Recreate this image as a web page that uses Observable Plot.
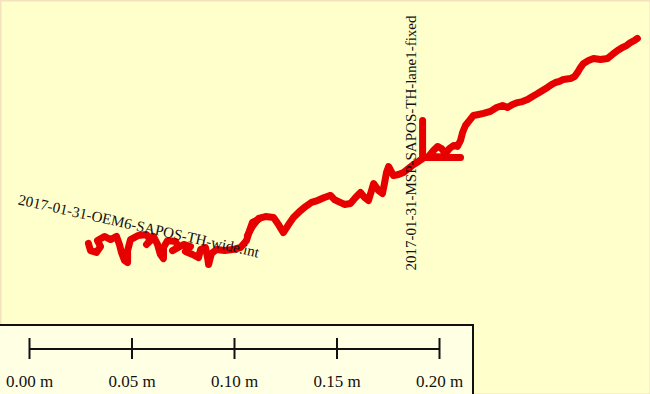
<!DOCTYPE html>
<html><head><meta charset="utf-8">
<script src="https://cdn.jsdelivr.net/npm/d3@7"></script>
<script src="https://cdn.jsdelivr.net/npm/@observablehq/plot@0.6"></script>
<style>
html,body{margin:0;padding:0;background:#ffffcc;}
#wrap{position:relative;width:650px;height:394px;overflow:hidden;}
#scale{position:absolute;left:-2px;top:324px;width:476px;height:72px;box-sizing:border-box;border:2px solid #111;background:#ffffe4;}
#scale svg,#map svg{display:block;}
</style></head><body>
<div id="wrap"><div id="map"></div><div id="scale"></div></div>
<script>
// Track 1: 2017-01-31-OEM6-SAPOS-TH-wide.int  (local east / north, millimetres)
const oem6East = [42.9,43.9,46.8,48.8,47.3,50.7,53.7,56.6,58.0,59.0,60.5,62.0,62.0,63.4,67.3,71.2,73.2,71.2,74.6,76.6,78.0,79.5,79.5,81.5,85.4,86.8,83.9,89.3,92.7,90.2,93.7,96.6,97.6,100.0,101.0,101.5,102.9,105.4,109.3,113.2,117.1,120.0,121.5,122.9,125.9];
const oem6North = [73.7,70.2,69.3,72.2,75.1,77.1,75.6,77.1,73.2,69.3,65.4,64.4,70.2,75.6,77.6,78.0,75.1,73.2,77.1,73.2,68.3,66.3,71.7,75.1,74.6,71.7,70.2,73.2,72.2,69.8,68.3,66.8,70.7,71.7,66.8,63.4,68.8,70.7,70.2,70.7,71.7,75.1,80.0,83.9,85.4];

// Track 2: 2017-01-31-MSP-SAPOS-TH-lane1-fixed (local east / north, millimetres)
const mspEast = [120.5,122.9,125.9,129.3,133.2,135.6,138.0,140.5,142.9,145.9,148.8,151.7,154.6,158.0,161.0,162.9,164.9,167.8,170.7,173.2,175.6,177.6,179.5,181.0,182.0,184.4,186.3,187.3,188.3,189.3,191.7,194.1,196.6,199.0,201.5,203.9,205.9,205.9,205.9,224.4,208.8,211.2,213.2,215.1,217.1,219.0,221.0,222.9,224.4,225.4,226.8,228.8,230.7,233.2,235.6,239.0,242.0,244.9,247.3,249.8,252.2,254.6,257.1,259.5,262.0,264.4,266.8,268.8,270.7,272.7,274.6,278.0,280.0,281.5,282.9,284.4,286.8,289.3,292.7,296.1,299.0,301.0,303.4,305.4,307.3,309.3,310.7];
const mspNorth = [77.6,82.0,85.9,86.8,86.3,82.9,79.0,82.9,86.3,89.3,91.7,93.7,94.6,96.1,97.1,95.1,94.1,92.7,93.2,96.1,98.5,96.1,94.6,99.5,102.9,99.5,98.0,102.9,108.3,111.2,106.8,107.3,108.3,110.2,112.2,113.7,115.1,133.7,115.6,115.6,116.1,119.0,121.0,120.0,117.6,120.0,121.5,121.0,123.9,127.8,131.2,133.7,136.1,136.6,137.1,138.1,140.0,141.0,140.0,141.5,142.4,142.9,143.9,145.4,146.8,148.3,149.8,151.2,152.2,152.7,153.7,154.1,155.1,157.1,159.5,161.5,162.9,163.9,163.4,163.9,166.3,167.8,169.3,170.2,171.7,172.7,173.7];

// Track labels (map position in mm)
const trackNames = ["2017-01-31-OEM6-SAPOS-TH-wide.int", "2017-01-31-MSP-SAPOS-TH-lane1-fixed"];
const labelEast = [8.8, 200.5];
const labelNorth = [95.1, 60.5];

// Scale bar ticks (metres)
const scaleTicks = [0, 0.05, 0.10, 0.15, 0.20];
const scaleLabels = ["0.00 m", "0.05 m", "0.10 m", "0.15 m", "0.20 m"];

const W = 650, H = 394;
const pxPerMm = 2.05;

const oem6 = oem6East.map((e, i) => ({e, n: oem6North[i]}));
const msp = mspEast.map((e, i) => ({e, n: mspNorth[i]}));
const labels = trackNames.map((name, i) => ({name, e: labelEast[i], n: labelNorth[i]}));

const red = "#e60000";
const serif = "'Liberation Serif', 'Times New Roman', serif";

const map = Plot.plot({
  width: W, height: H, margin: 0,
  style: {background: "#ffffcc", overflow: "hidden"},
  x: {domain: [0, W / pxPerMm], axis: null},
  y: {domain: [0, H / pxPerMm], axis: null},
  marks: [
    Plot.line(oem6, {x: "e", y: "n", stroke: red, strokeWidth: 7, strokeLinejoin: "round", strokeLinecap: "round"}),
    Plot.line(msp, {x: "e", y: "n", stroke: red, strokeWidth: 7, strokeLinejoin: "round", strokeLinecap: "round"}),
    Plot.text(labels.slice(0, 1), {x: "e", y: "n", text: "name", rotate: 12.5, textAnchor: "start", lineAnchor: "middle", fontFamily: serif, fontSize: 15, fill: "#111"}),
    Plot.text(labels.slice(1), {x: "e", y: "n", text: "name", rotate: -90, textAnchor: "start", lineAnchor: "middle", fontFamily: serif, fontSize: 15, fill: "#111"}),
    Plot.frame({stroke: "#f3e2bc", strokeWidth: 2})
  ]
});
document.getElementById("map").append(map);

const x0 = 29; // left end of the bar
const scale = Plot.plot({
  width: 472, height: 68, margin: 0,
  style: {background: "transparent"},
  x: {domain: [0, 0.2], range: [x0, x0 + 200 * pxPerMm], axis: null},
  y: {domain: [0, 1], range: [33, 12], axis: null},
  marks: [
    Plot.ruleY([0.5], {x1: 0, x2: 0.2, stroke: "#111", strokeWidth: 2}),
    Plot.ruleX(scaleTicks, {x: d => d, y1: 0, y2: 1, stroke: "#111", strokeWidth: 2}),
    Plot.text(scaleTicks, {x: d => d, y: 0, dy: 22, text: (d, i) => scaleLabels[i], fontFamily: serif, fontSize: 17, fill: "#111", lineAnchor: "middle"})
  ]
});
document.getElementById("scale").append(scale);
</script></body></html>
